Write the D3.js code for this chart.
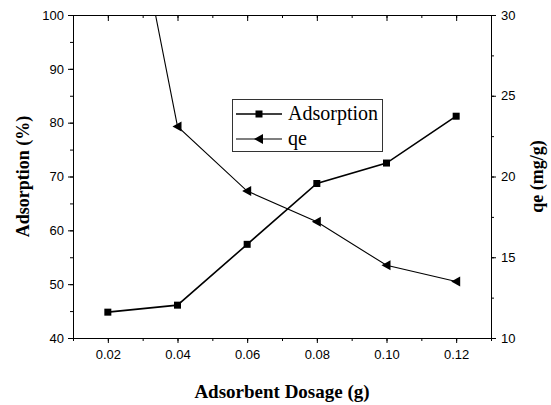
<!DOCTYPE html>
<html>
<head>
<meta charset="utf-8">
<script src="https://cdn.jsdelivr.net/npm/d3@7"></script>
<style>
  html, body { margin: 0; padding: 0; background: #fff; }
  svg { display: block; }
  .tick text { font-family: "Liberation Sans", Arial, sans-serif; font-size: 13px; fill: #000; }
</style>
</head>
<body>
<svg id="chart" width="551" height="405"></svg>
<script>
// Data
const dosage = [0.02, 0.04, 0.06, 0.08, 0.10, 0.12];
const adsorption = [44.8, 46.1, 57.4, 68.7, 72.5, 81.2];
const qe = [45.0, 23.1, 19.1, 17.2, 14.5, 13.5];
const xTicks = [0.02, 0.04, 0.06, 0.08, 0.10, 0.12];
const yLeftTicks = [40, 50, 60, 70, 80, 90, 100];
const yRightTicks = [10, 15, 20, 25, 30];

const svg = d3.select("#chart");
const mLeft = 73, mRight = 491, mTop = 15, mBottom = 338;

const x = d3.scaleLinear().domain([0.01, 0.13]).range([mLeft, mRight]);
const yL = d3.scaleLinear().domain([40, 100]).range([mBottom, mTop]);
const yR = d3.scaleLinear().domain([10, 30]).range([mBottom, mTop]);

const xMinor = d3.range(0.01, 0.1301, 0.01).map(v => +v.toFixed(3));
const yLMinor = d3.range(40, 100.1, 5);
const yRMinor = d3.range(10, 30.1, 2.5);

function minorAxis(axisGen, scale, vals, transform, size) {
  svg.append("g").attr("transform", transform)
    .call(axisGen(scale).tickValues(vals).tickSize(size).tickFormat(""))
    .call(g => g.select(".domain").remove())
    .call(g => g.selectAll("line").attr("stroke", "#000"));
}
minorAxis(d3.axisBottom, x, xMinor, `translate(0,${mBottom})`, 3);
minorAxis(d3.axisTop, x, xMinor, `translate(0,${mTop})`, -3);
minorAxis(d3.axisLeft, yL, yLMinor, `translate(${mLeft},0)`, 3);
minorAxis(d3.axisRight, yR, yRMinor, `translate(${mRight},0)`, 3);

svg.append("g").attr("transform", `translate(0,${mBottom})`)
  .call(d3.axisBottom(x).tickValues(xTicks).tickSize(5).tickSizeOuter(0).tickPadding(7).tickFormat(d3.format(".2f")))
  .call(g => g.selectAll("line, path").attr("stroke", "#000"));
svg.append("g").attr("transform", `translate(0,${mTop})`)
  .call(d3.axisTop(x).tickValues(xTicks).tickSize(-6).tickSizeOuter(0).tickFormat(""))
  .call(g => g.selectAll("line, path").attr("stroke", "#000"));
svg.append("g").attr("transform", `translate(${mLeft},0)`)
  .call(d3.axisLeft(yL).tickValues(yLeftTicks).tickSize(5).tickSizeOuter(0).tickPadding(4))
  .call(g => g.selectAll("line, path").attr("stroke", "#000"));
svg.append("g").attr("transform", `translate(${mRight},0)`)
  .call(d3.axisRight(yR).tickValues(yRightTicks).tickSize(5).tickSizeOuter(0).tickPadding(5))
  .call(g => g.selectAll("line, path").attr("stroke", "#000"));

svg.append("clipPath").attr("id", "clip")
  .append("rect").attr("x", mLeft).attr("y", mTop).attr("width", mRight - mLeft).attr("height", mBottom - mTop);

const plot = svg.append("g").attr("clip-path", "url(#clip)");

const adsLine = d3.line().x((d, i) => x(dosage[i])).y(d => yL(d));
const qeLine = d3.line().x((d, i) => x(dosage[i])).y(d => yR(d));

plot.append("path").datum(adsorption).attr("d", adsLine)
  .attr("fill", "none").attr("stroke", "#000").attr("stroke-width", 1.6);
plot.append("path").datum(qe).attr("d", qeLine)
  .attr("fill", "none").attr("stroke", "#000").attr("stroke-width", 1.1);

const sq = 7;
plot.selectAll("rect.sq").data(adsorption).enter().append("rect")
  .attr("class", "sq")
  .attr("x", (d, i) => x(dosage[i]) - sq / 2).attr("y", d => yL(d) - sq / 2)
  .attr("width", sq).attr("height", sq).attr("fill", "#000");

function triPath(cx, cy) {
  return `M${cx - 5},${cy} L${cx + 4},${cy - 5} L${cx + 4},${cy + 5} Z`;
}
plot.selectAll("path.tri").data(qe).enter().append("path")
  .attr("class", "tri")
  .attr("d", (d, i) => triPath(x(dosage[i]), yR(d)))
  .attr("fill", "#000");

const lg = svg.append("g");
lg.append("rect").attr("x", 232.5).attr("y", 99.5).attr("width", 150).attr("height", 52)
  .attr("fill", "#fff").attr("stroke", "#333").attr("stroke-width", 1);
const rows = [
  { label: "Adsorption", y: 114, marker: "sq", w: 1.6 },
  { label: "qe", y: 139, marker: "tri", w: 1.1 }
];
rows.forEach(r => {
  lg.append("line").attr("x1", 236).attr("x2", 282).attr("y1", r.y).attr("y2", r.y)
    .attr("stroke", "#000").attr("stroke-width", r.w);
  if (r.marker === "sq") {
    lg.append("rect").attr("x", 259 - sq / 2).attr("y", r.y - sq / 2).attr("width", sq).attr("height", sq).attr("fill", "#000");
  } else {
    lg.append("path").attr("d", triPath(259, r.y)).attr("fill", "#000");
  }
  lg.append("text").attr("x", 288).attr("y", r.y + 6)
    .attr("font-family", "'Liberation Serif', 'Times New Roman', serif")
    .attr("font-size", 20).text(r.label);
});

const titleFont = "'Liberation Serif', 'Times New Roman', serif";
svg.append("text").attr("x", (mLeft + mRight) / 2).attr("y", 398)
  .attr("text-anchor", "middle").attr("font-family", titleFont)
  .attr("font-weight", "bold").attr("font-size", 19).text("Adsorbent Dosage (g)");
svg.append("text").attr("transform", `translate(29,${(mTop + mBottom) / 2}) rotate(-90)`)
  .attr("text-anchor", "middle").attr("font-family", titleFont)
  .attr("font-weight", "bold").attr("font-size", 18).text("Adsorption (%)");
svg.append("text").attr("transform", `translate(543,${(mTop + mBottom) / 2}) rotate(-90)`)
  .attr("text-anchor", "middle").attr("font-family", titleFont)
  .attr("font-weight", "bold").attr("font-size", 18).text("qe (mg/g)");
</script>
</body>
</html>
